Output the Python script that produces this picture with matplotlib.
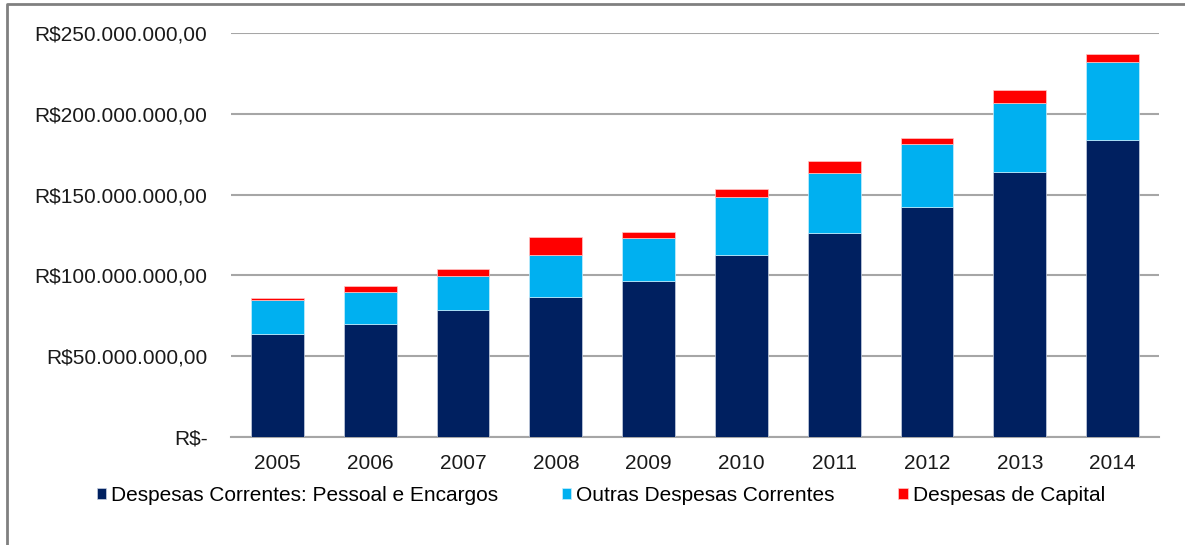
import matplotlib.pyplot as plt
from matplotlib.lines import Line2D
from matplotlib.ticker import FuncFormatter
import numpy as np

plt.rcParams['font.family'] = ['Liberation Sans', 'DejaVu Sans']

# Values in millions of R$
years = ['2005', '2006', '2007', '2008', '2009', '2010', '2011', '2012', '2013', '2014']
pessoal = [63.6, 69.9, 78.6, 86.6, 96.7, 112.8, 126.4, 142.3, 163.8, 183.8]
outras = [21.0, 20.0, 21.0, 26.0, 26.3, 35.9, 36.8, 39.0, 42.9, 48.3]
capital = [1.4, 3.3, 4.4, 11.2, 4.0, 4.8, 7.6, 3.9, 7.8, 4.7]

legend_labels = ['Despesas Correntes: Pessoal e Encargos',
                 'Outras Despesas Correntes',
                 'Despesas de Capital']
colors = ['#002060', '#00B0F0', '#FF0000']


def brl(v, pos):
    if v == 0:
        return 'R$-'
    s = f'{v * 1e6:,.2f}'
    s = s.replace(',', 'X').replace('.', ',').replace('X', '.')
    return 'R$' + s


fig = plt.figure(figsize=(11.85, 5.45), dpi=100)
ax = fig.add_axes([0.195, 0.198, 0.783, 0.7414])

x = np.arange(len(years))
p = np.array(pessoal)
o = np.array(outras)
c = np.array(capital)
w = 0.57
ax.bar(x, p, w, color=colors[0], edgecolor='#c8d0e0', linewidth=0.5, label=legend_labels[0], zorder=3)
ax.bar(x, o, w, bottom=p, color=colors[1], edgecolor='#c8eefc', linewidth=0.5, label=legend_labels[1], zorder=3)
ax.bar(x, c, w, bottom=p + o, color=colors[2], edgecolor='#ffc8c8', linewidth=0.5, label=legend_labels[2], zorder=3)

ax.set_xlim(-0.5, len(years) - 0.5)
ax.set_ylim(0, 250)
ax.set_yticks(np.arange(0, 251, 50))
ax.yaxis.set_major_formatter(FuncFormatter(brl))
ax.set_xticks(x)
ax.set_xticklabels(years)
ax.grid(axis='y', color='#A6A6A6', linewidth=1.5, zorder=0)
for s in ['top', 'right', 'left']:
    ax.spines[s].set_visible(False)
ax.spines['bottom'].set_color('#A6A6A6')
ax.spines['bottom'].set_linewidth(1.5)
ax.tick_params(axis='both', length=0, labelsize=15, colors='#1a1a1a')
ax.tick_params(axis='y', pad=17)
ax.tick_params(axis='x', pad=12)

leg = fig.legend(loc='center left', bbox_to_anchor=(0.0745, 0.091), ncol=3, frameon=False,
                 fontsize=15, handlelength=0.45, handleheight=0.45, handletextpad=0.25,
                 columnspacing=3.05, borderaxespad=0)

# outer frame (left and top edges visible)
fig.add_artist(Line2D([7 / 1185, 7 / 1185, 1.0], [0.0, 1 - 4 / 545, 1 - 4 / 545],
                      transform=fig.transFigure, color='#808080', linewidth=2))

fig.savefig('out.png', dpi=100)
